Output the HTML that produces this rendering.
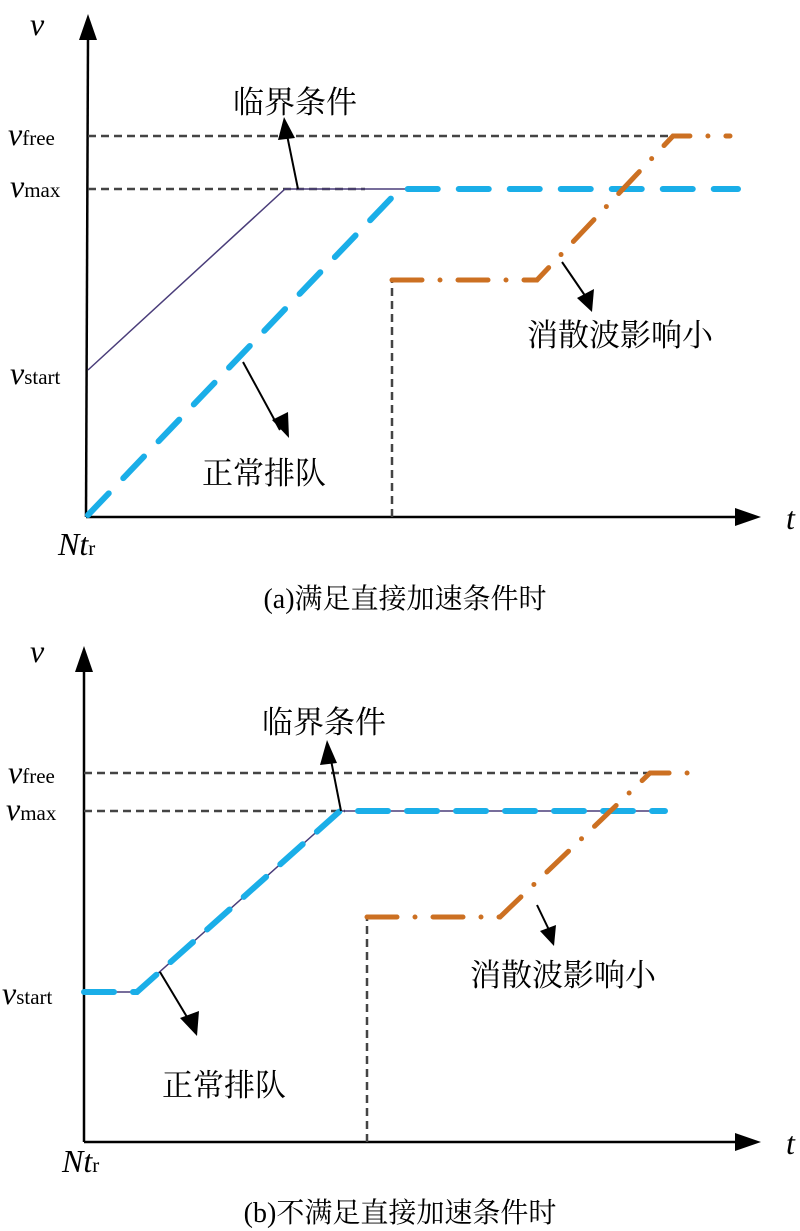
<!DOCTYPE html><html><head><meta charset="utf-8"><style>body{margin:0;background:#fff}svg{display:block}text{font-family:"Liberation Serif","Noto Serif CJK SC",serif;fill:#000}.cj{font-family:"Liberation Serif","Noto Serif CJK SC",serif;font-size:31px}.it{font-style:italic;font-size:32px}.sub{font-size:21px;font-style:normal}</style></head><body>
<svg width="800" height="1231" viewBox="0 0 800 1231">
<g id="a">
<line x1="86" y1="517" x2="88" y2="38" stroke="#000" stroke-width="2.5"/>
<path d="M79,40 L88,14 L97,40z" fill="#000"/>
<line x1="86" y1="517" x2="738" y2="517" stroke="#000" stroke-width="2.5"/>
<path d="M735,508 L761,517 L735,526z" fill="#000"/>
<line x1="88" y1="136" x2="672" y2="136" stroke="#444" stroke-width="2.5" stroke-dasharray="8,5"/>
<line x1="88" y1="189" x2="365" y2="189" stroke="#444" stroke-width="2.5" stroke-dasharray="8,5"/>
<polyline points="88,370 285,189 405,189" fill="none" stroke="#4a3d7a" stroke-width="1.5"/>
<line x1="392" y1="517" x2="392" y2="280" stroke="#444" stroke-width="2.5" stroke-dasharray="8,5"/>
<polyline points="88,515 400,189 738,189" fill="none" stroke="#1aaee8" stroke-width="6" stroke-linecap="round" stroke-dasharray="30,21"/>
<polyline points="392,280 537,280 673,136 730,136" fill="none" stroke="#cc7022" stroke-width="5" stroke-linecap="round" stroke-dasharray="30,18,0,18"/>
<line x1="298" y1="189" x2="287" y2="135" stroke="#000" stroke-width="2"/><path d="M278,140 L284,117 L295,138z" fill="#000"/>
<line x1="243" y1="362" x2="280" y2="430" stroke="#000" stroke-width="2"/><path d="M272,420 L289,438 L288,412z" fill="#000"/>
<line x1="562" y1="262" x2="588" y2="300" stroke="#000" stroke-width="2"/><path d="M577,298 L592,312 L594,289z" fill="#000"/>
<text class="cj" x="233" y="113">临界条件</text>
<text class="cj" x="202" y="484">正常排队</text>
<text class="cj" x="527" y="346">消散波影响小</text>
<text class="it" x="30" y="35">v</text>
<text class="it" x="8" y="145">v<tspan class="sub">free</tspan></text>
<text class="it" x="10" y="197">v<tspan class="sub">max</tspan></text>
<text class="it" x="10" y="384">v<tspan class="sub">start</tspan></text>
<text class="it" x="58" y="555">Nt<tspan class="sub">r</tspan></text>
<text class="it" x="786" y="529">t</text>
<text x="405" y="608" text-anchor="middle" style="font-size:28px">(a)满足直接加速条件时</text>
</g>
<g id="b">
<line x1="84" y1="1142" x2="84" y2="670" stroke="#000" stroke-width="2.5"/>
<path d="M75,672 L84,646 L93,672z" fill="#000"/>
<line x1="84" y1="1142" x2="738" y2="1142" stroke="#000" stroke-width="2.5"/>
<path d="M735,1133 L761,1142 L735,1151z" fill="#000"/>
<line x1="84" y1="773" x2="650" y2="773" stroke="#444" stroke-width="2.5" stroke-dasharray="8,5"/>
<line x1="84" y1="811" x2="345" y2="811" stroke="#444" stroke-width="2.5" stroke-dasharray="8,5"/>
<polyline points="84,992 137,992 340,811 665,811" fill="none" stroke="#4a3d7a" stroke-width="1.5"/>
<line x1="367" y1="1142" x2="367" y2="917" stroke="#444" stroke-width="2.5" stroke-dasharray="8,5"/>
<polyline points="84,992 137,992 340,811 665,811" fill="none" stroke="#1aaee8" stroke-width="6" stroke-linecap="round" stroke-dasharray="30,19"/>
<polyline points="367,917 500,917 650,773 705,773" fill="none" stroke="#cc7022" stroke-width="5" stroke-linecap="round" stroke-dasharray="30,18,0,18"/>
<line x1="341" y1="811" x2="330" y2="755" stroke="#000" stroke-width="2"/><path d="M320,765 L327,740 L337,763z" fill="#000"/>
<line x1="160" y1="972" x2="190" y2="1022" stroke="#000" stroke-width="2"/><path d="M180,1018 L197,1036 L199,1011z" fill="#000"/>
<line x1="537" y1="905" x2="550" y2="932" stroke="#000" stroke-width="2"/><path d="M540,931 L554,946 L556,925z" fill="#000"/>
<text class="cj" x="262" y="733">临界条件</text>
<text class="cj" x="162" y="1096">正常排队</text>
<text class="cj" x="470" y="986">消散波影响小</text>
<text class="it" x="30" y="662">v</text>
<text class="it" x="8" y="783">v<tspan class="sub">free</tspan></text>
<text class="it" x="6" y="820">v<tspan class="sub">max</tspan></text>
<text class="it" x="2" y="1004">v<tspan class="sub">start</tspan></text>
<text class="it" x="62" y="1172">Nt<tspan class="sub">r</tspan></text>
<text class="it" x="786" y="1154">t</text>
<text x="400" y="1222" text-anchor="middle" style="font-size:28px">(b)不满足直接加速条件时</text>
</g>
</svg></body></html>
